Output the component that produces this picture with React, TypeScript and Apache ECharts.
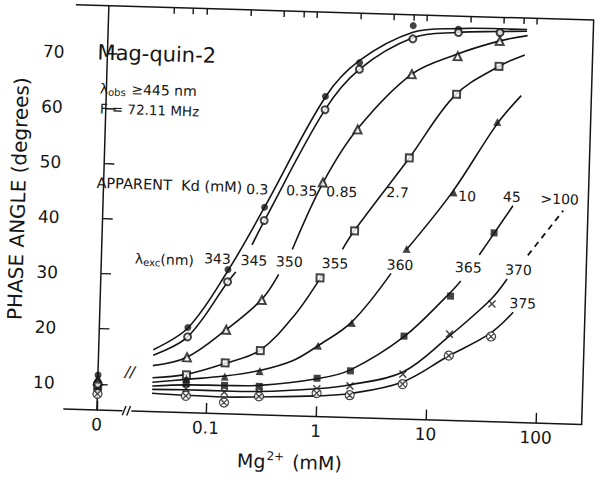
import React, { useEffect, useRef } from "react";
import * as echarts from "echarts";

// ---- data ----
const concentrations = [0.065, 0.145, 0.3, 1.0, 2.0, 6.0, 15.5, 37]; // mM
const wavelengths = ["343", "345", "350", "355", "360", "365", "370", "375"];
const kdLabels = ["0.3", "0.35", "0.85", "2.7", "10", "45", ">100"];

const phi343 = [20.7, 31.4, 42.9, 63.3, 69.6, 76.6, 76.2, 75.9];
const phi345 = [19.0, 29.2, 40.5, 60.9, 68.4, 74.2, 75.6, 75.8];
const phi350 = [15.3, 20.5, 26.1, 47.7, 57.5, 67.8, 71.3, 74.3];
const phi355 = [12.1, 14.5, 16.9, 30.4, 39.1, 52.6, 64.4, 69.7];
const phi360 = [11.4, 12.0, 13.2, 18.1, 22.4, 36.1, 46.6, 59.6];
const phi365 = [10.5, 10.4, 10.4, 12.2, 13.7, 20.3, 27.8, 39.5];
const phi370 = [9.6, 9.2, 9.3, 10.3, 11.0, 13.4, 20.9, 26.6];
const phi375 = [8.3, 7.3, 8.6, 9.5, 9.3, 11.6, 17.0, 20.7];

// phase angle at zero Mg2+ (same order as wavelengths)
const phiZero = [11.6, 10.1, 10.6, 9.6, 11.1, 8.8, 9.2, 8.2];

// fitted curves: [mM, degrees]
const fit343 = [[0.032, 16.5], [0.065, 20.6], [0.145, 31.2], [0.3, 42.9], [1, 63.2], [2, 70.0], [6, 75.4], [15, 76.3], [37, 76.5], [65, 76.5]];
const fit345a = [[0.032, 15.5], [0.065, 19.0], [0.145, 29.1], [0.171, 31.0]];
const fit345b = [[0.236, 36.0], [0.3, 40.4], [1, 60.9], [2, 68.4], [6, 74.4], [15, 75.6], [37, 76.0], [65, 76.2]];
const fit350a = [[0.032, 13.6], [0.065, 15.3], [0.145, 20.5], [0.3, 26.2], [0.42, 30.8]];
const fit350b = [[0.55, 35.4], [1, 47.6], [2, 57.6], [6, 67.8], [15, 71.6], [37, 74.3], [66, 75.4]];
const fit355a = [[0.032, 11.4], [0.065, 12.2], [0.145, 14.4], [0.3, 17.0], [0.6, 23.5], [1.05, 31.0]];
const fit355b = [[1.57, 35.7], [2, 39.2], [6, 52.6], [15, 64.2], [37, 69.7], [63, 71.9]];
const fit360a = [[0.032, 10.6], [0.065, 11.3], [0.145, 12.1], [0.3, 13.3], [0.6, 15.3], [1, 18.1], [2, 22.6], [4.4, 31.6]];
const fit360b = [[6, 36.0], [15, 46.6], [37, 59.3], [60, 64.5]];
const fit365a = [[0.032, 9.9], [0.065, 10.3], [0.145, 10.4], [0.3, 10.6], [1, 12.1], [2, 13.9], [6, 20.2], [15, 28.2], [19, 30.6]];
const fit365b = [[27.5, 35.4], [37, 39.4], [54, 44.5]];
const fit370a = [[0.032, 9.3], [0.065, 9.4], [0.145, 9.4], [0.3, 9.5], [1, 10.3], [2, 11.2], [6, 13.8], [15, 20.3], [36, 27.4], [50, 31.2]];
const fit370dash = [[76, 35.6], [155, 43.9]];
const fit375 = [[0.032, 8.6], [0.065, 8.4], [0.145, 8.3], [0.3, 8.5], [1, 9.0], [2, 9.6], [6, 12.0], [15, 16.8], [36, 21.2], [58, 25.2]];

const yTicks = [10, 20, 30, 40, 50, 60, 70];
const xMajorTicks = [0.1, 1, 10, 100];
const xMinorTicks = [0.04, 0.06, 0.08, 0.2, 0.4, 0.6, 0.8, 2, 4, 6, 8, 20, 40, 60, 80];

// ---- layout / style ----
const INK = "#151515";
const FONT = "'DejaVu Sans', sans-serif";
const PLOT_LEFT = 69;
const PLOT_TOP = 11.5;
const PLOT_BOTTOM = 415.8;
const ZERO_RIGHT = 127;
const MAIN_LEFT = 137;
const PLOT_RIGHT = 587;
const X_MIN = Math.pow(10, -1.6732);
const X_MAX = Math.pow(10, 2.4151);
const Y_MIN = 5.29;
const Y_MAX = 78.57;

const kdPos = [[255.8, 190.6], [300.2, 190.6], [340.3, 190.5], [396.1, 189.5], [465.7, 191.2], [510.4, 190.6], [558.3, 191.4]];
const wlPos = [[218, 261], [254.6, 261.7], [290, 262], [335.7, 262.3], [400.7, 262], [469.1, 262.3], [519.2, 263.5], [524.6, 296.7]];

const X_SYMBOL = "path://M0,1.3L1.3,0L5,3.7L8.7,0L10,1.3L6.3,5L10,8.7L8.7,10L5,6.3L1.3,10L0,8.7L3.7,5Z";
const OX_SYMBOL = "path://M5,0A5,5,0,1,1,4.99,0ZM1.7,1.7L8.3,8.3M8.3,1.7L1.7,8.3";

const markerStyles: any[] = [
  { symbol: "circle", symbolSize: 7, itemStyle: { color: INK } },
  { symbol: "emptyCircle", symbolSize: 7, itemStyle: { color: INK, borderWidth: 1.3 } },
  { symbol: "emptyTriangle", symbolSize: 8, itemStyle: { color: INK, borderWidth: 1.3 } },
  { symbol: "emptyRect", symbolSize: 7, itemStyle: { color: INK, borderWidth: 1.3 } },
  { symbol: "triangle", symbolSize: 8, itemStyle: { color: INK } },
  { symbol: "rect", symbolSize: 7, itemStyle: { color: INK } },
  { symbol: X_SYMBOL, symbolSize: 8, itemStyle: { color: INK } },
  { symbol: OX_SYMBOL, symbolSize: 9, itemStyle: { color: "#fff", borderColor: INK, borderWidth: 1.2 } },
];

function buildOption(): any {
  const values = [phi343, phi345, phi350, phi355, phi360, phi365, phi370, phi375];
  const fits: any[][] = [
    [fit343],
    [fit345a, fit345b],
    [fit350a, fit350b],
    [fit355a, fit355b],
    [fit360a, fit360b],
    [fit365a, fit365b],
    [fit370a],
    [fit375],
  ];
  const series: any[] = [];
  fits.forEach((segs, i) => {
    segs.forEach((seg) => {
      series.push({
        type: "line", name: wavelengths[i], xAxisIndex: 1, yAxisIndex: 1,
        data: seg, smooth: 0.35, symbol: "none", silent: true, z: 2,
        lineStyle: { color: INK, width: 1.6 },
      });
    });
  });
  series.push({
    type: "line", name: "370 (extrapolated)", xAxisIndex: 1, yAxisIndex: 1,
    data: fit370dash, symbol: "none", silent: true, z: 2,
    lineStyle: { color: INK, width: 1.8, type: [6, 5] },
  });
  values.forEach((vals, i) => {
    const m = markerStyles[i];
    series.push({
      type: "scatter", name: wavelengths[i] + " nm", xAxisIndex: 1, yAxisIndex: 1,
      data: concentrations.map((c, k) => [c, vals[k]]),
      symbol: m.symbol, symbolSize: m.symbolSize, symbolKeepAspect: true,
      itemStyle: m.itemStyle, z: 4, silent: true,
    });
    series.push({
      type: "scatter", name: wavelengths[i] + " nm (0)", xAxisIndex: 0, yAxisIndex: 0,
      data: [[0, phiZero[i]]],
      symbol: m.symbol, symbolSize: m.symbolSize, symbolKeepAspect: true,
      itemStyle: m.itemStyle, z: 4, silent: true,
    });
  });

  const axisLine = { show: true, lineStyle: { color: INK, width: 1.5 } };
  const tickLine = { color: INK, width: 1.4 };
  const labelBase = { color: INK, fontFamily: FONT, fontSize: 17 };

  const txt = (x: number, y: number, text: string, size: number, extra: any = {}) => ({
    type: "text", x, y, silent: true,
    style: { text, fontSize: size, fontFamily: FONT, fill: INK, align: "center", verticalAlign: "middle", ...extra },
  });

  const graphic: any[] = [
    { type: "line", silent: true, shape: { x1: PLOT_LEFT, y1: PLOT_TOP, x2: PLOT_RIGHT, y2: PLOT_TOP }, style: { stroke: INK, lineWidth: 1.5 } },
    { type: "line", silent: true, shape: { x1: 127.5, y1: 420.5, x2: 131, y2: 411 }, style: { stroke: INK, lineWidth: 1.4 } },
    { type: "line", silent: true, shape: { x1: 132, y1: 420.5, x2: 135.5, y2: 411 }, style: { stroke: INK, lineWidth: 1.4 } },
    txt(92, 58.5, "Mag-quin-2", 21, { align: "left" }),
    txt(95.5, 94.4, "{t|λ}{s|obs}{t| ≥445 nm}", 14, {
      align: "left",
      rich: { t: { fontSize: 14, fontFamily: FONT, fill: INK }, s: { fontSize: 10, fontFamily: FONT, fill: INK, padding: [7, 1, 0, 0] } },
    }),
    txt(96, 114.5, "F = 72.11 MHz", 13.5, { align: "left" }),
    txt(95, 189, "APPARENT  Kd (mM)", 14.5, { align: "left" }),
    txt(135.6, 263.5, "{t|λ}{s|exc}{t|(nm)}", 14, {
      align: "left",
      rich: { t: { fontSize: 14, fontFamily: FONT, fill: INK }, s: { fontSize: 10, fontFamily: FONT, fill: INK, padding: [7, 0, 0, 0] } },
    }),
    txt(134, 377, "//", 15, { fontStyle: "italic" }),
    {
      type: "text", x: 17, y: 207, rotation: Math.PI / 2, silent: true,
      style: { text: "PHASE ANGLE (degrees)", fontSize: 20, fontFamily: FONT, fill: INK, align: "center", verticalAlign: "middle" },
    },
    txt(296, 462, "{a|Mg}{s|2+}{a| (mM)}", 19, {
      rich: { a: { fontSize: 19, fontFamily: FONT, fill: INK }, s: { fontSize: 12, fontFamily: FONT, fill: INK, padding: [0, 2, 10, 1] } },
    }),
  ];
  kdLabels.forEach((t, i) => graphic.push(txt(kdPos[i][0], kdPos[i][1], t, 14)));
  wavelengths.forEach((t, i) => graphic.push(txt(wlPos[i][0], wlPos[i][1], t, 14)));

  return {
    animation: false,
    backgroundColor: "#fff",
    grid: [
      { left: PLOT_LEFT, top: PLOT_TOP, width: ZERO_RIGHT - PLOT_LEFT, height: PLOT_BOTTOM - PLOT_TOP },
      { left: MAIN_LEFT, top: PLOT_TOP, width: PLOT_RIGHT - MAIN_LEFT, height: PLOT_BOTTOM - PLOT_TOP },
    ],
    xAxis: [
      {
        gridIndex: 0, type: "value", min: -1, max: 0.75, axisLine,
        axisTick: { show: true, inside: true, length: 9, customValues: [0], lineStyle: tickLine },
        axisLabel: { ...labelBase, customValues: [0], formatter: () => "0", margin: 6 },
        splitLine: { show: false },
      },
      {
        gridIndex: 1, type: "log", logBase: 10, min: X_MIN, max: X_MAX, axisLine,
        axisTick: { show: true, inside: true, length: 10, customValues: xMajorTicks, lineStyle: tickLine },
        axisLabel: { ...labelBase, customValues: xMajorTicks, margin: 6, formatter: (v: number) => String(Number(Number(v).toPrecision(2))) },
        splitLine: { show: false }, minorTick: { show: false },
      },
      {
        gridIndex: 1, type: "log", logBase: 10, min: X_MIN, max: X_MAX,
        axisLine: { show: false },
        axisTick: { show: true, inside: true, length: 6, customValues: xMinorTicks, lineStyle: tickLine },
        axisLabel: { show: false }, splitLine: { show: false },
      },
    ],
    yAxis: [
      {
        gridIndex: 0, type: "value", min: Y_MIN, max: Y_MAX, axisLine,
        axisTick: { show: true, inside: true, length: 10, customValues: yTicks, lineStyle: tickLine },
        axisLabel: { ...labelBase, customValues: yTicks, margin: 10 },
        splitLine: { show: false },
      },
      {
        gridIndex: 1, type: "value", min: Y_MIN, max: Y_MAX, position: "right", axisLine,
        axisTick: { show: false }, axisLabel: { show: false }, splitLine: { show: false },
      },
    ],
    series,
    graphic,
  };
}

export default function App() {
  const ref = useRef<HTMLDivElement>(null);
  useEffect(() => {
    const chart = echarts.init(ref.current!, null, { renderer: "svg", width: 600, height: 480 });
    chart.setOption(buildOption());
    return () => chart.dispose();
  }, []);
  return (
    <div style={{ position: "fixed", left: 0, top: 0, width: 600, height: 480, background: "#fff", overflow: "hidden" }}>
      <div
        ref={ref}
        style={{ width: 600, height: 480, transform: "rotate(1.7deg)", transformOrigin: "300px 240px" }}
      />
    </div>
  );
}
